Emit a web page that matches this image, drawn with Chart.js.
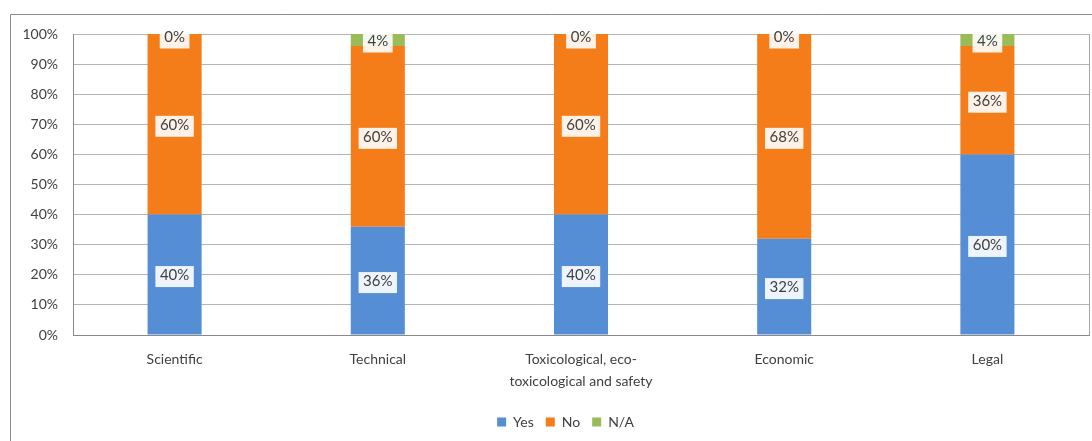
<!DOCTYPE html>
<html lang="en">
<head>
    <meta charset="UTF-8">
    <title>Stacked percent chart</title>
    <script src="https://cdn.jsdelivr.net/npm/chart.js"></script>
    <style>
        html, body {
            margin: 0;
            padding: 0;
            background: #ffffff;
            overflow: hidden;
        }

        .wrap {
            position: relative;
            width: 1092px;
            height: 441px;
        }
    </style>
</head>
<body>
    <div class="wrap">
        <canvas id="chart" width="1092" height="441"></canvas>
    </div>

    <script>
        const categories = ['Scientific', 'Technical', ['Toxicological, eco-', 'toxicological and safety'], 'Economic', 'Legal'];
        const yesValues = [40, 36, 40, 32, 60];
        const noValues = [60, 60, 60, 68, 36];
        const naValues = [0, 4, 0, 0, 4];
        const seriesNames = ['Yes', 'No', 'N/A'];
        const yTicks = [0, 10, 20, 30, 40, 50, 60, 70, 80, 90, 100];

        const fontFamily = 'Lato, "Open Sans", sans-serif';
        const textColor = '#404040';

        // boxed value labels in the middle of each segment; box clipped to the plot
        const labelPlugin = {
            id: 'segmentLabels',
            afterDatasetsDraw(chart) {
                const ctx = chart.ctx;
                const area = chart.chartArea;
                ctx.font = '15px ' + fontFamily;
                ctx.textAlign = 'center';
                ctx.textBaseline = 'middle';
                chart.data.datasets.forEach((ds, i) => {
                    const meta = chart.getDatasetMeta(i);
                    meta.data.forEach((bar, j) => {
                        const text = ds.data[j] + '%';
                        const cy = Math.max((bar.y + bar.base) / 2 + 1, area.top + 3);
                        const w = ctx.measureText(text).width + 9;
                        const h = 21;
                        ctx.save();
                        ctx.beginPath();
                        ctx.rect(area.left, area.top, area.right - area.left, area.bottom - area.top);
                        ctx.clip();
                        ctx.fillStyle = 'rgba(255,255,255,0.9)';
                        ctx.fillRect(bar.x - w / 2, cy - h / 2 + 1, w, h);
                        ctx.restore();
                        ctx.fillStyle = textColor;
                        ctx.fillText(text, bar.x, cy);
                    });
                });
            }
        };

        // outer chart frame, plot-area border, legend nudged right like the original
        const framePlugin = {
            id: 'frames',
            afterLayout(chart) {
                if (chart.legend) {
                    chart.legend.left += 21;
                    chart.legend.right += 21;
                }
            },
            beforeDraw(chart) {
                const ctx = chart.ctx;
                ctx.save();
                ctx.strokeStyle = '#8c8c8c';
                ctx.lineWidth = 1;
                ctx.beginPath();
                ctx.moveTo(10.5, 460);
                ctx.lineTo(10.5, 14.5);
                ctx.lineTo(1100, 14.5);
                ctx.stroke();
                ctx.restore();
            },
            afterDraw(chart) {
                const ctx = chart.ctx;
                const a = chart.chartArea;
                ctx.save();
                ctx.strokeStyle = '#a6a6a6';
                ctx.lineWidth = 1;
                ctx.beginPath();
                ctx.moveTo(Math.round(a.right) + 0.5, a.top);
                ctx.lineTo(Math.round(a.right) + 0.5, a.bottom);
                ctx.stroke();
                ctx.restore();
            }
        };

        const barColors = ['#558ed5', '#f47c19', '#9bbb59'];
        const seriesData = [yesValues, noValues, naValues];

        new Chart(document.getElementById('chart').getContext('2d'), {
            type: 'bar',
            data: {
                labels: categories,
                datasets: seriesNames.map((name, i) => ({
                    label: name,
                    data: seriesData[i],
                    backgroundColor: barColors[i],
                    borderWidth: 0,
                    categoryPercentage: 1,
                    barPercentage: 0.266
                }))
            },
            options: {
                responsive: false,
                animation: false,
                devicePixelRatio: 1,
                layout: {
                    padding: { left: 0, right: 3, top: 34, bottom: 2 }
                },
                plugins: {
                    legend: {
                        position: 'bottom',
                        labels: {
                            boxWidth: 9,
                            boxHeight: 9,
                            padding: 12,
                            color: textColor,
                            font: { family: fontFamily, size: 14 }
                        }
                    },
                    tooltip: { enabled: false }
                },
                scales: {
                    x: {
                        stacked: true,
                        afterFit(scale) { scale.height = 68; },
                        grid: { display: false },
                        border: { color: '#898989' },
                        ticks: {
                            color: textColor,
                            padding: 6,
                            maxRotation: 0,
                            autoSkip: false,
                            font: { family: fontFamily, size: 14, lineHeight: 1.55 }
                        }
                    },
                    y: {
                        stacked: true,
                        min: 0,
                        max: 100,
                        afterFit(scale) { scale.width = 73; },
                        afterBuildTicks(scale) { scale.ticks = yTicks.map(v => ({ value: v })); },
                        grid: { color: '#b3b3b3', drawTicks: false },
                        border: { color: '#898989' },
                        ticks: {
                            color: textColor,
                            padding: 15,
                            font: { family: fontFamily, size: 14 },
                            callback: v => v + '%'
                        }
                    }
                }
            },
            plugins: [labelPlugin, framePlugin]
        });
    </script>
</body>
</html>
